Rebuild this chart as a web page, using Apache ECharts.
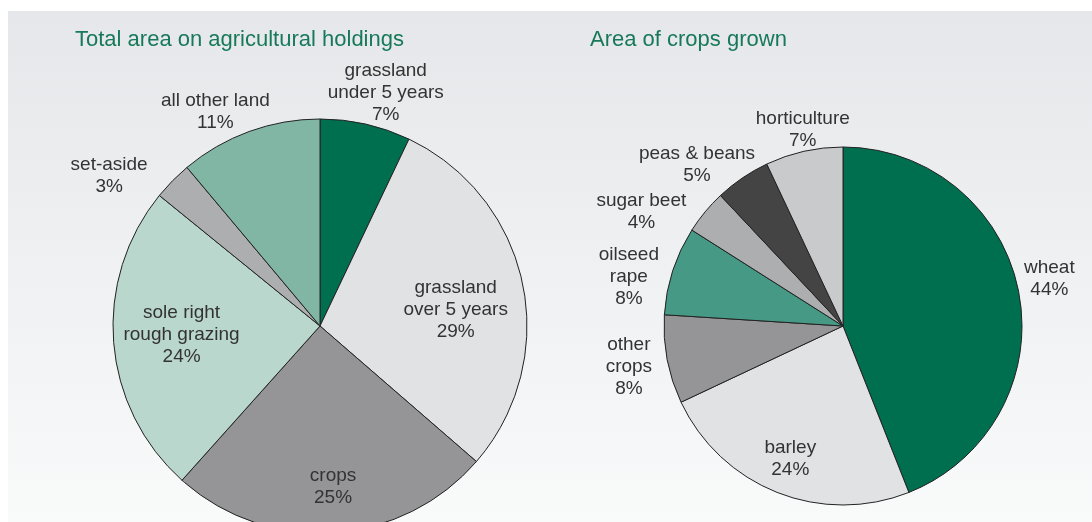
<!DOCTYPE html>
<html>
<head>
<meta charset="utf-8">
<script src="https://cdn.jsdelivr.net/npm/echarts@6/dist/echarts.min.js"></script>
<style>
  html, body { margin: 0; padding: 0; background: #fff; }
  #chart { width: 1092px; height: 522px; }
</style>
</head>
<body>
<div id="chart"></div>
<script>
// left pie: total area on agricultural holdings (%)
const holdingNames = ['grassland\nunder 5 years', 'grassland\nover 5 years', 'crops', 'sole right\nrough grazing', 'set-aside', 'all other land'];
const holdingValues = [7, 29, 25, 24, 3, 11];

// right pie: area of crops grown (%)
const cropNames = ['wheat', 'barley', 'other\ncrops', 'oilseed\nrape', 'sugar beet', 'peas & beans', 'horticulture'];
const cropValues = [44, 24, 8, 8, 4, 5, 7];

const holdingColors = ['#006f4f', '#e1e2e4', '#959597', '#b9d7cd', '#adaeb0', '#80b6a3'];
const cropColors = ['#006f4f', '#e1e2e4', '#959597', '#469a85', '#adaeb0', '#444444', '#c9cacc'];

// label placement: 'out' = just outside the rim, number = fraction of radius (inside)
const holdingLabelAt = ['out', 0.66, 0.78, 0.67, 'out', 'out'];
const cropLabelAt = ['out', 0.8, 'out', 'out', 'out', 'out', 'out'];
// small hand tweaks so crowded labels don't clash: turn (deg), push (px)
const holdingLabelTurn = [3, 5, -1, 1, -9, -6];
const holdingLabelPush = [-14, 0, 0, 0, 6, -14];
const cropLabelTurn = [-2, 0, 0, -5, -10, -8, 1];
const cropLabelPush = [1, 0, 8, 2, 1, -19, -12];

const pies = [
  { center: [320, 326], radius: 207, names: holdingNames, values: holdingValues, colors: holdingColors,
    labelAt: holdingLabelAt, turn: holdingLabelTurn, push: holdingLabelPush },
  { center: [843, 326], radius: 179, names: cropNames, values: cropValues, colors: cropColors,
    labelAt: cropLabelAt, turn: cropLabelTurn, push: cropLabelPush }
];

const font = '"Liberation Sans", Arial, sans-serif';

// put label at slice mid angle, outside labels pushed clear of the rim
const placeLabel = (pie) => {
  const total = pie.values.reduce((a, b) => a + b, 0);
  return (params) => {
    const i = params.dataIndex;
    let before = 0;
    for (let k = 0; k < i; k++) before += pie.values[k];
    const midDeg = -90 + (before + pie.values[i] / 2) / total * 360 + pie.turn[i];
    const mid = midDeg * Math.PI / 180;
    const dx = Math.cos(mid), dy = Math.sin(mid);
    const at = pie.labelAt[i];
    let dist;
    if (at === 'out') {
      const w = params.labelRect.width, h = params.labelRect.height;
      dist = pie.radius + 2 + Math.abs(dx) * w / 2 + Math.abs(dy) * h / 2;
    } else {
      dist = pie.radius * at;
    }
    dist += pie.push[i];
    return {
      x: pie.center[0] + dx * dist,
      y: pie.center[1] + dy * dist,
      align: 'center',
      verticalAlign: 'middle'
    };
  };
};

const chart = echarts.init(document.getElementById('chart'));

const option = {
  animation: false,
  graphic: [{
    type: 'rect',
    z: -10,
    silent: true,
    shape: { x: 8, y: 11, width: 1084, height: 511 },
    style: {
      fill: new echarts.graphic.LinearGradient(0, 0, 0, 1, [
        { offset: 0, color: '#e5e7ea' },
        { offset: 1, color: '#f9fafa' }
      ])
    }
  }],
  title: [{
    text: 'Total area on agricultural holdings',
    left: 75,
    top: 29,
    padding: 0,
    textStyle: { color: '#17795a', fontSize: 22, fontWeight: 'normal', fontFamily: font }
  }, {
    text: 'Area of crops grown',
    left: 590,
    top: 29,
    padding: 0,
    textStyle: { color: '#17795a', fontSize: 22, fontWeight: 'normal', fontFamily: font }
  }],
  series: pies.map((pie) => ({
    type: 'pie',
    center: pie.center,
    radius: [0, pie.radius],
    startAngle: 90,
    clockwise: true,
    silent: true,
    emphasis: { disabled: true },
    itemStyle: { borderColor: '#222', borderWidth: 1 },
    label: {
      show: true,
      position: 'inside',
      color: '#333',
      fontSize: 19,
      lineHeight: 22,
      fontFamily: font,
      formatter: (p) => p.name + '\n' + p.value + '%'
    },
    labelLine: { show: false },
    labelLayout: placeLabel(pie),
    data: pie.names.map((name, i) => ({
      name: name,
      value: pie.values[i],
      itemStyle: { color: pie.colors[i] }
    }))
  }))
};

chart.setOption(option);
</script>
</body>
</html>
